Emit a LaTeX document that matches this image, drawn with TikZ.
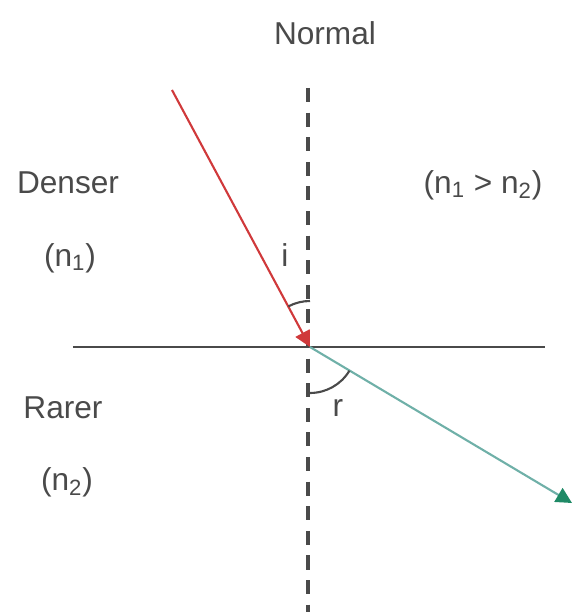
\documentclass[tikz,border=0pt]{standalone}
\usepackage{fontspec}
\setmainfont{Liberation Sans}
\usetikzlibrary{arrows.meta}
\definecolor{raycol}{HTML}{D0393B}
\definecolor{refcol}{HTML}{6FB0A8}
\definecolor{tipcol}{HTML}{1F8A66}
\definecolor{inkcol}{HTML}{4A4A4A}
\begin{document}
\begin{tikzpicture}[every node/.style={font=\fontsize{18}{21}\selectfont, text=inkcol}, line width=1.2pt]
  \useasboundingbox (-6.2,-5.3) rectangle (5.3,6.94);
  % points
  \coordinate (O) at (0,0);
  \coordinate (ntop) at (-0.04,5.18);
  \coordinate (nbot) at (-0.04,-5.3);
  \coordinate (sl) at (-4.74,0);
  \coordinate (sr) at (4.7,0);
  \coordinate (src) at (-2.76,5.14);
  \coordinate (dst) at (5.24,-3.12);
  % surface and normal
  \draw[inkcol] (sl) -- (sr);
  \draw[inkcol, line width=2.2pt, dash pattern=on 8pt off 6pt] (ntop) -- (nbot);
  % rays
  \draw[raycol, -{Triangle[length=9pt,width=9pt]}] (src) -- (O);
  \draw[refcol, -{Triangle[length=9pt,width=9pt,color=tipcol]}] (O) -- (dst);
  % angles
  \draw[inkcol] (0,0.92) arc[start angle=90, end angle=118, radius=0.92];
  \draw[inkcol] (0,-0.92) arc[start angle=-90, end angle=-31, radius=0.92];
  % labels
  \node (normal) at (0.3,6.28) {Normal};
  \node (denser) at (-4.84,3.28) {Denser};
  \node (n1) at (-4.8,1.78) {(n\textsubscript{1})};
  \node (cmp) at (3.46,3.24) {(n\textsubscript{1} > n\textsubscript{2})};
  \node (rarer) at (-4.94,-1.22) {Rarer};
  \node (n2) at (-4.86,-2.7) {(n\textsubscript{2})};
  \node (i) at (-0.5,1.84) {i};
  \node (r) at (0.56,-1.22) {r};
\end{tikzpicture}
\end{document}
